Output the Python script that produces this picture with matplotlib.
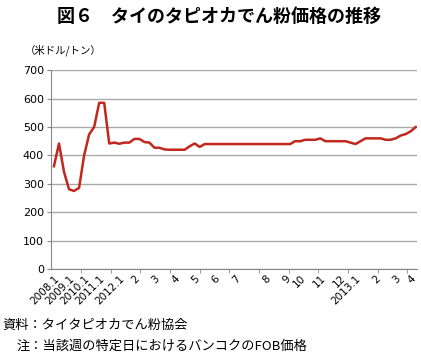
import matplotlib.pyplot as plt
import numpy as np

plt.rcParams['font.family'] = ['Noto Sans CJK JP', 'DejaVu Sans']

# weekly prices (US$/t), 2008 .. 2013.4
price = [362, 442, 342, 281, 275, 286, 400, 474, 500, 585,
         585, 442, 445, 441, 445, 445, 458, 458, 447, 445,
         427, 427, 421, 420, 420, 420, 420, 432, 442, 430,
         440, 440, 440, 440, 440, 440, 440, 440, 440, 440,
         440, 440, 440, 440, 440, 440, 440, 440, 450, 450,
         455, 455, 455, 460, 450, 450, 450, 450, 450, 445,
         440, 450, 460, 460, 460, 460, 455, 455, 460, 470,
         475, 485, 500]

label_idx = [0, 3, 6, 9, 13, 16, 20, 24, 28, 32, 36, 42, 46, 49, 53, 57, 60, 64, 68, 71]
label_txt = ['2008.1', '2009.1', '2010.1', '2011.1', '2012.1', '2', '3', '4', '5', '6',
             '7', '8', '9', '10', '11', '12', '2013.1', '2', '3', '4']

fig = plt.figure(figsize=(4.21, 3.56), dpi=100)
ax = fig.add_axes([0.121, 0.244, 0.869, 0.559])

x = np.arange(len(price))
ax.plot(x, price, color='#c0281e', lw=1.8, zorder=3)

ax.set_xlim(-0.6, len(price) - 0.8)
ax.set_ylim(0, 700)
ax.set_yticks(range(0, 701, 100))
ax.grid(axis='y', color='#aaaaaa', lw=1.0)
ax.set_axisbelow(True)

for s in ['top', 'right']:
    ax.spines[s].set_visible(False)
ax.spines['left'].set_color('#888888')
ax.spines['bottom'].set_color('#888888')

ax.set_xticks(label_idx)
ax.set_xticklabels(label_txt, rotation=45, ha='right', va='top',
                   rotation_mode='anchor', fontsize=7.5, family='DejaVu Sans')
ax.set_xticks(np.arange(5.4, len(price), 5.9), minor=True)
ax.tick_params(axis='x', which='major', length=0, pad=3)
ax.tick_params(axis='x', which='minor', length=3, color='#888888')
ax.tick_params(axis='y', length=3, color='#888888', labelsize=8, pad=2)
for t in ax.get_yticklabels():
    t.set_family('DejaVu Sans')

fig.text(0.52, 0.955, '図６　タイのタピオカでん粉価格の推移', ha='center', va='center',
         fontsize=13, fontweight='bold')
fig.text(0.06, 0.858, '（米ドル/トン）', ha='left', va='center', fontsize=7.5)
fig.text(0.005, 0.087, '資料：タイタピオカでん粉協会', ha='left', va='center', fontsize=9.5)
fig.text(0.04, 0.028, '注：当該週の特定日におけるバンコクのFOB価格', ha='left', va='center',
         fontsize=9.5)

fig.savefig('out.png', dpi=100)
